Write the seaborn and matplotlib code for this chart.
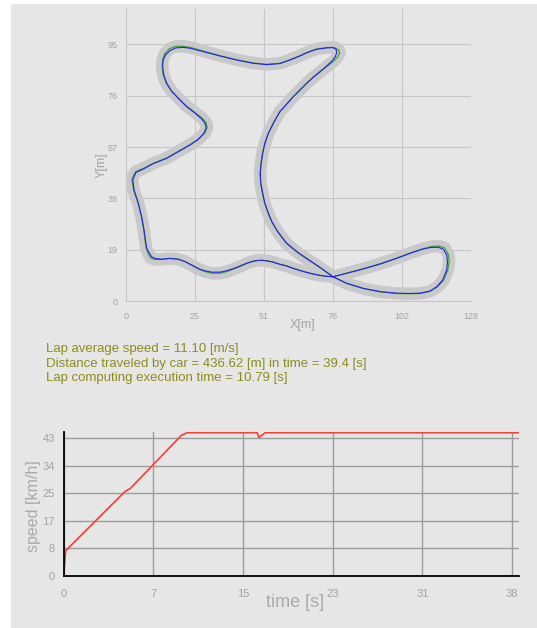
import matplotlib
matplotlib.use("Agg")
import matplotlib.pyplot as plt
from matplotlib.patches import Rectangle
import pandas as pd
import seaborn as sns

# ---------------- data ----------------
# driven trajectory of the car (x [m], y [m])
car_path = [
    (76.9, 9.1), (74.0, 9.3), (71.5, 9.7), (69.5, 10.1), (66.0, 11.0), (62.1, 12.2),
    (59.7, 13.1), (57.2, 13.7), (54.7, 14.5), (52.3, 15.0), (50.4, 15.2), (48.6, 15.1),
    (46.7, 14.7), (44.8, 14.1), (42.4, 13.1), (39.9, 12.1), (37.4, 11.3), (35.0, 10.8),
    (31.9, 10.8), (29.8, 11.2), (27.5, 11.9), (25.7, 12.8), (23.8, 13.8), (22.0, 14.7),
    (19.5, 15.6), (16.4, 15.9), (13.3, 15.6), (10.9, 15.9), (9.6, 16.5), (8.8, 17.8),
    (7.8, 19.6), (7.5, 21.5), (6.8, 26.4), (5.9, 31.4), (4.7, 36.3), (3.1, 41.3),
    (2.6, 45.0), (3.8, 47.7), (6.5, 49.0), (10.2, 51.0), (15.2, 53.0), (20.1, 55.8),
    (23.8, 57.9), (26.9, 60.0), (29.0, 62.3), (29.8, 64.3), (29.4, 66.0), (28.2, 67.5),
    (25.7, 69.7), (22.6, 72.1), (19.5, 75.2), (17.0, 77.9), (15.2, 80.8), (14.1, 83.9),
    (13.7, 87.0), (13.9, 89.4), (14.8, 91.3), (16.4, 92.9), (18.6, 93.9), (21.3, 94.1),
    (23.8, 93.8), (28.8, 92.5), (35.0, 90.9), (41.1, 89.4), (47.3, 88.2), (52.3, 87.7),
    (57.2, 88.1), (60.9, 89.4), (64.6, 90.9), (67.1, 92.1), (70.8, 93.4), (74.5, 93.9),
    (76.7, 94.0), (78.0, 93.4), (78.2, 92.1), (77.7, 90.7), (76.6, 89.2), (74.5, 87.2),
    (72.0, 85.1), (69.5, 83.0), (67.1, 80.8), (64.6, 78.3), (62.1, 75.8), (59.7, 73.1),
    (57.2, 70.3), (55.0, 66.5), (52.9, 62.3), (51.6, 58.6), (50.8, 54.9), (50.2, 51.0),
    (49.9, 47.4), (50.1, 43.7), (50.8, 40.0), (51.6, 36.3), (52.9, 32.6), (54.2, 29.5),
    (56.0, 26.4), (57.8, 23.9), (59.7, 21.5), (62.1, 19.5), (64.6, 17.6), (67.1, 15.9),
    (69.5, 14.3), (72.0, 12.6), (74.5, 10.8), (76.9, 9.1), (81.9, 6.7), (88.1, 4.8),
    (94.3, 3.6), (100.4, 3.0), (104.8, 2.9), (109.1, 3.0), (112.8, 3.8), (115.3, 5.4),
    (117.5, 7.9), (119.0, 11.6), (119.3, 14.7), (119.0, 17.2), (117.7, 19.3), (115.9, 20.0),
    (113.4, 20.0), (110.3, 19.4), (106.6, 18.2), (100.4, 15.9), (94.3, 13.8), (88.1, 12.0),
    (81.9, 10.4),
]

# reference centre line of the track (x [m], y [m])
track_center = [
    (76.9, 9.1), (74.0, 9.3), (71.5, 9.7), (69.5, 10.1), (66.0, 11.0), (62.1, 12.2),
    (59.7, 13.1), (57.2, 13.7), (54.7, 14.5), (52.3, 15.0), (50.4, 15.2), (48.6, 15.1),
    (46.7, 14.7), (44.8, 14.0), (42.4, 12.9), (39.9, 11.9), (37.4, 11.0), (35.0, 10.4),
    (31.9, 10.4), (29.8, 10.9), (27.5, 11.7), (25.7, 12.7), (23.8, 13.7), (22.0, 14.7),
    (19.5, 15.6), (16.4, 15.9), (13.3, 15.5), (10.8, 15.5), (9.3, 16.0), (8.4, 17.5),
    (7.6, 19.6), (7.3, 21.5), (6.7, 26.4), (5.8, 31.4), (4.6, 36.3), (2.9, 41.3),
    (2.3, 45.2), (3.6, 48.0), (6.5, 49.2), (10.2, 51.1), (15.2, 53.1), (20.1, 55.9),
    (23.8, 58.0), (27.0, 60.1), (29.3, 62.4), (30.2, 64.3), (29.8, 66.2), (28.4, 67.8),
    (25.8, 69.9), (22.6, 72.3), (19.4, 75.4), (16.9, 78.0), (15.0, 80.9), (13.9, 83.9),
    (13.5, 87.0), (13.7, 89.6), (14.5, 91.8), (16.2, 93.6), (18.6, 94.5), (21.3, 94.5),
    (23.8, 94.1), (28.8, 92.7), (35.0, 91.0), (41.1, 89.5), (47.3, 88.3), (52.3, 87.8),
    (57.2, 88.2), (60.9, 89.5), (64.6, 91.0), (67.1, 92.2), (70.8, 93.5), (74.5, 94.0),
    (77.2, 94.1), (78.9, 93.2), (79.3, 92.0), (78.5, 90.5), (77.0, 88.9), (74.7, 87.1),
    (72.1, 85.0), (69.5, 83.0), (67.1, 80.8), (64.6, 78.3), (62.1, 75.8), (59.7, 73.1),
    (57.2, 70.3), (55.0, 66.5), (52.9, 62.3), (51.6, 58.6), (50.7, 54.9), (50.1, 51.0),
    (49.8, 47.4), (50.0, 43.7), (50.7, 40.0), (51.5, 36.3), (52.8, 32.6), (54.1, 29.5),
    (55.9, 26.4), (57.7, 23.9), (59.6, 21.5), (62.0, 19.4), (64.5, 17.5), (67.0, 15.8),
    (69.5, 14.2), (72.0, 12.5), (74.5, 10.7), (76.9, 9.0), (81.9, 6.6), (88.1, 4.7),
    (94.3, 3.5), (100.4, 2.9), (104.8, 2.8), (109.1, 2.9), (112.9, 3.7), (115.5, 5.3),
    (117.8, 7.8), (119.4, 11.5), (119.9, 14.8), (119.6, 17.4), (118.2, 19.8), (116.0, 20.5),
    (113.4, 20.3), (110.3, 19.5), (106.6, 18.3), (100.4, 16.0), (94.3, 13.9), (88.1, 12.1),
    (81.9, 10.4),
]

map_xticks = [0, 25.6, 51.2, 76.8, 102.4, 128.0]
map_xlabels = ["0", "25", "51", "76", "102", "128"]
map_yticks = [0, 19.05, 38.1, 57.15, 76.2, 95.25]
map_ylabels = ["0", "19", "38", "57", "76", "95"]

# speed profile over the lap
time_s = [0.0, 0.17, 5.3, 5.75, 10.2, 10.7, 16.74, 16.89, 17.46, 39.4]
speed_kmh = [0.0, 7.8, 26.4, 27.3, 44.1, 44.9, 44.9, 43.4, 44.9, 44.9]

speed_xticks = [0, 7.76, 15.52, 23.28, 31.04, 38.8]
speed_xlabels = ["0", "7", "15", "23", "31", "38"]
speed_yticks = [0, 8.64, 17.28, 25.92, 34.56, 43.2]
speed_ylabels = ["0", "8", "17", "25", "34", "43"]

summary_lines = [
    "Lap average speed = 11.10 [m/s]",
    "Distance traveled by car = 436.62 [m] in time = 39.4 [s]",
    "Lap computing execution time = 10.79 [s]",
]

# ---------------- styling ----------------
sns.set_theme(style="white")
plt.rcParams["font.family"] = ["Liberation Sans", "DejaVu Sans"]

W, H = 537, 628
BG = "#e6e6e6"
fig = plt.figure(figsize=(W / 100, H / 100), dpi=100, facecolor="white")
fig.patches.append(Rectangle((11 / W, 0), 1 - 11 / W, 1 - 4 / H,
                             transform=fig.transFigure, facecolor=BG,
                             edgecolor="none", zorder=-10))


def closed(points):
    pts = list(points) + [points[0]]
    return pd.DataFrame(pts, columns=["x", "y"])


track_df = closed(track_center)
car_df = closed(car_path)

# ---------------- track map ----------------
ax1 = fig.add_axes([125.7 / W, 1 - 301.3 / H, (471 - 125.7) / W, (301.3 - 9.3) / H])
ax1.set_facecolor(BG)
sns.lineplot(data=track_df, x="x", y="y", sort=False, estimator=None, ax=ax1,
             color="#c9c9c9", linewidth=9, solid_capstyle="round",
             solid_joinstyle="round", zorder=2)
sns.lineplot(data=track_df, x="x", y="y", sort=False, estimator=None, ax=ax1,
             color="#2e9a2e", linewidth=0.8, solid_joinstyle="round", zorder=3)
sns.lineplot(data=car_df, x="x", y="y", sort=False, estimator=None, ax=ax1,
             color="#2424e8", linewidth=0.8, solid_joinstyle="round", zorder=4)
ax1.set_xlim(0, 128)
ax1.set_ylim(0, 108.2)
ax1.set_xticks(map_xticks, map_xlabels)
ax1.set_yticks(map_yticks, map_ylabels)
ax1.grid(True, color="#c6c6c6", linewidth=0.8)
ax1.set_axisbelow(True)
for s in ("top", "right"):
    ax1.spines[s].set_visible(False)
for s in ("left", "bottom"):
    ax1.spines[s].set_color("#c6c6c6")
    ax1.spines[s].set_linewidth(0.8)
ax1.tick_params(axis="both", length=0, labelsize=6.5, labelcolor="#a3a3a3")
ax1.tick_params(axis="x", pad=8)
ax1.tick_params(axis="y", pad=6)
ax1.set_xlabel("X[m]", fontsize=9, color="#a3a3a3")
ax1.set_ylabel("Y[m]", fontsize=9, color="#a3a3a3")
ax1.xaxis.set_label_coords(0.513, -0.062)
ax1.yaxis.set_label_coords(-0.052, 0.465)

# ---------------- lap summary ----------------
for i, line in enumerate(summary_lines):
    fig.text(46.5 / W, 1 - (349 + 14.5 * i) / H, line, fontsize=9.5,
             color="#8c8c1e", va="center", ha="left")

# ---------------- speed over time ----------------
ax2 = fig.add_axes([63.7 / W, 1 - 575.5 / H, (519 - 63.7) / W, (575.5 - 432) / H])
ax2.set_facecolor(BG)
speed_df = pd.DataFrame({"time": time_s, "speed": speed_kmh})
sns.lineplot(data=speed_df, x="time", y="speed", sort=False, estimator=None,
             ax=ax2, color="#ff3b30", linewidth=1.2, zorder=3)
ax2.set_xlim(0, 39.4)
ax2.set_ylim(0, 45.1)
ax2.set_xticks(speed_xticks, speed_xlabels)
ax2.set_yticks(speed_yticks, speed_ylabels)
ax2.grid(True, color="#9c9c9c", linewidth=1.0)
ax2.set_axisbelow(True)
for s in ("top", "right"):
    ax2.spines[s].set_visible(False)
for s in ("left", "bottom"):
    ax2.spines[s].set_color("black")
    ax2.spines[s].set_linewidth(1.3)
    ax2.spines[s].set_zorder(4)
ax2.tick_params(axis="both", length=4, width=1.0, color="#9c9c9c",
                labelsize=8, labelcolor="#a3a3a3")
ax2.tick_params(axis="x", pad=6)
ax2.tick_params(axis="y", pad=2.5)
ax2.set_xlabel("time [s]", fontsize=13, color="#aaaaaa")
ax2.set_ylabel("speed [km/h]", fontsize=11.5, color="#aaaaaa")
ax2.xaxis.set_label_coords(0.508, -0.13)
ax2.yaxis.set_label_coords(-0.05, 0.48)

fig.savefig("out.png", dpi=100, facecolor="white")
